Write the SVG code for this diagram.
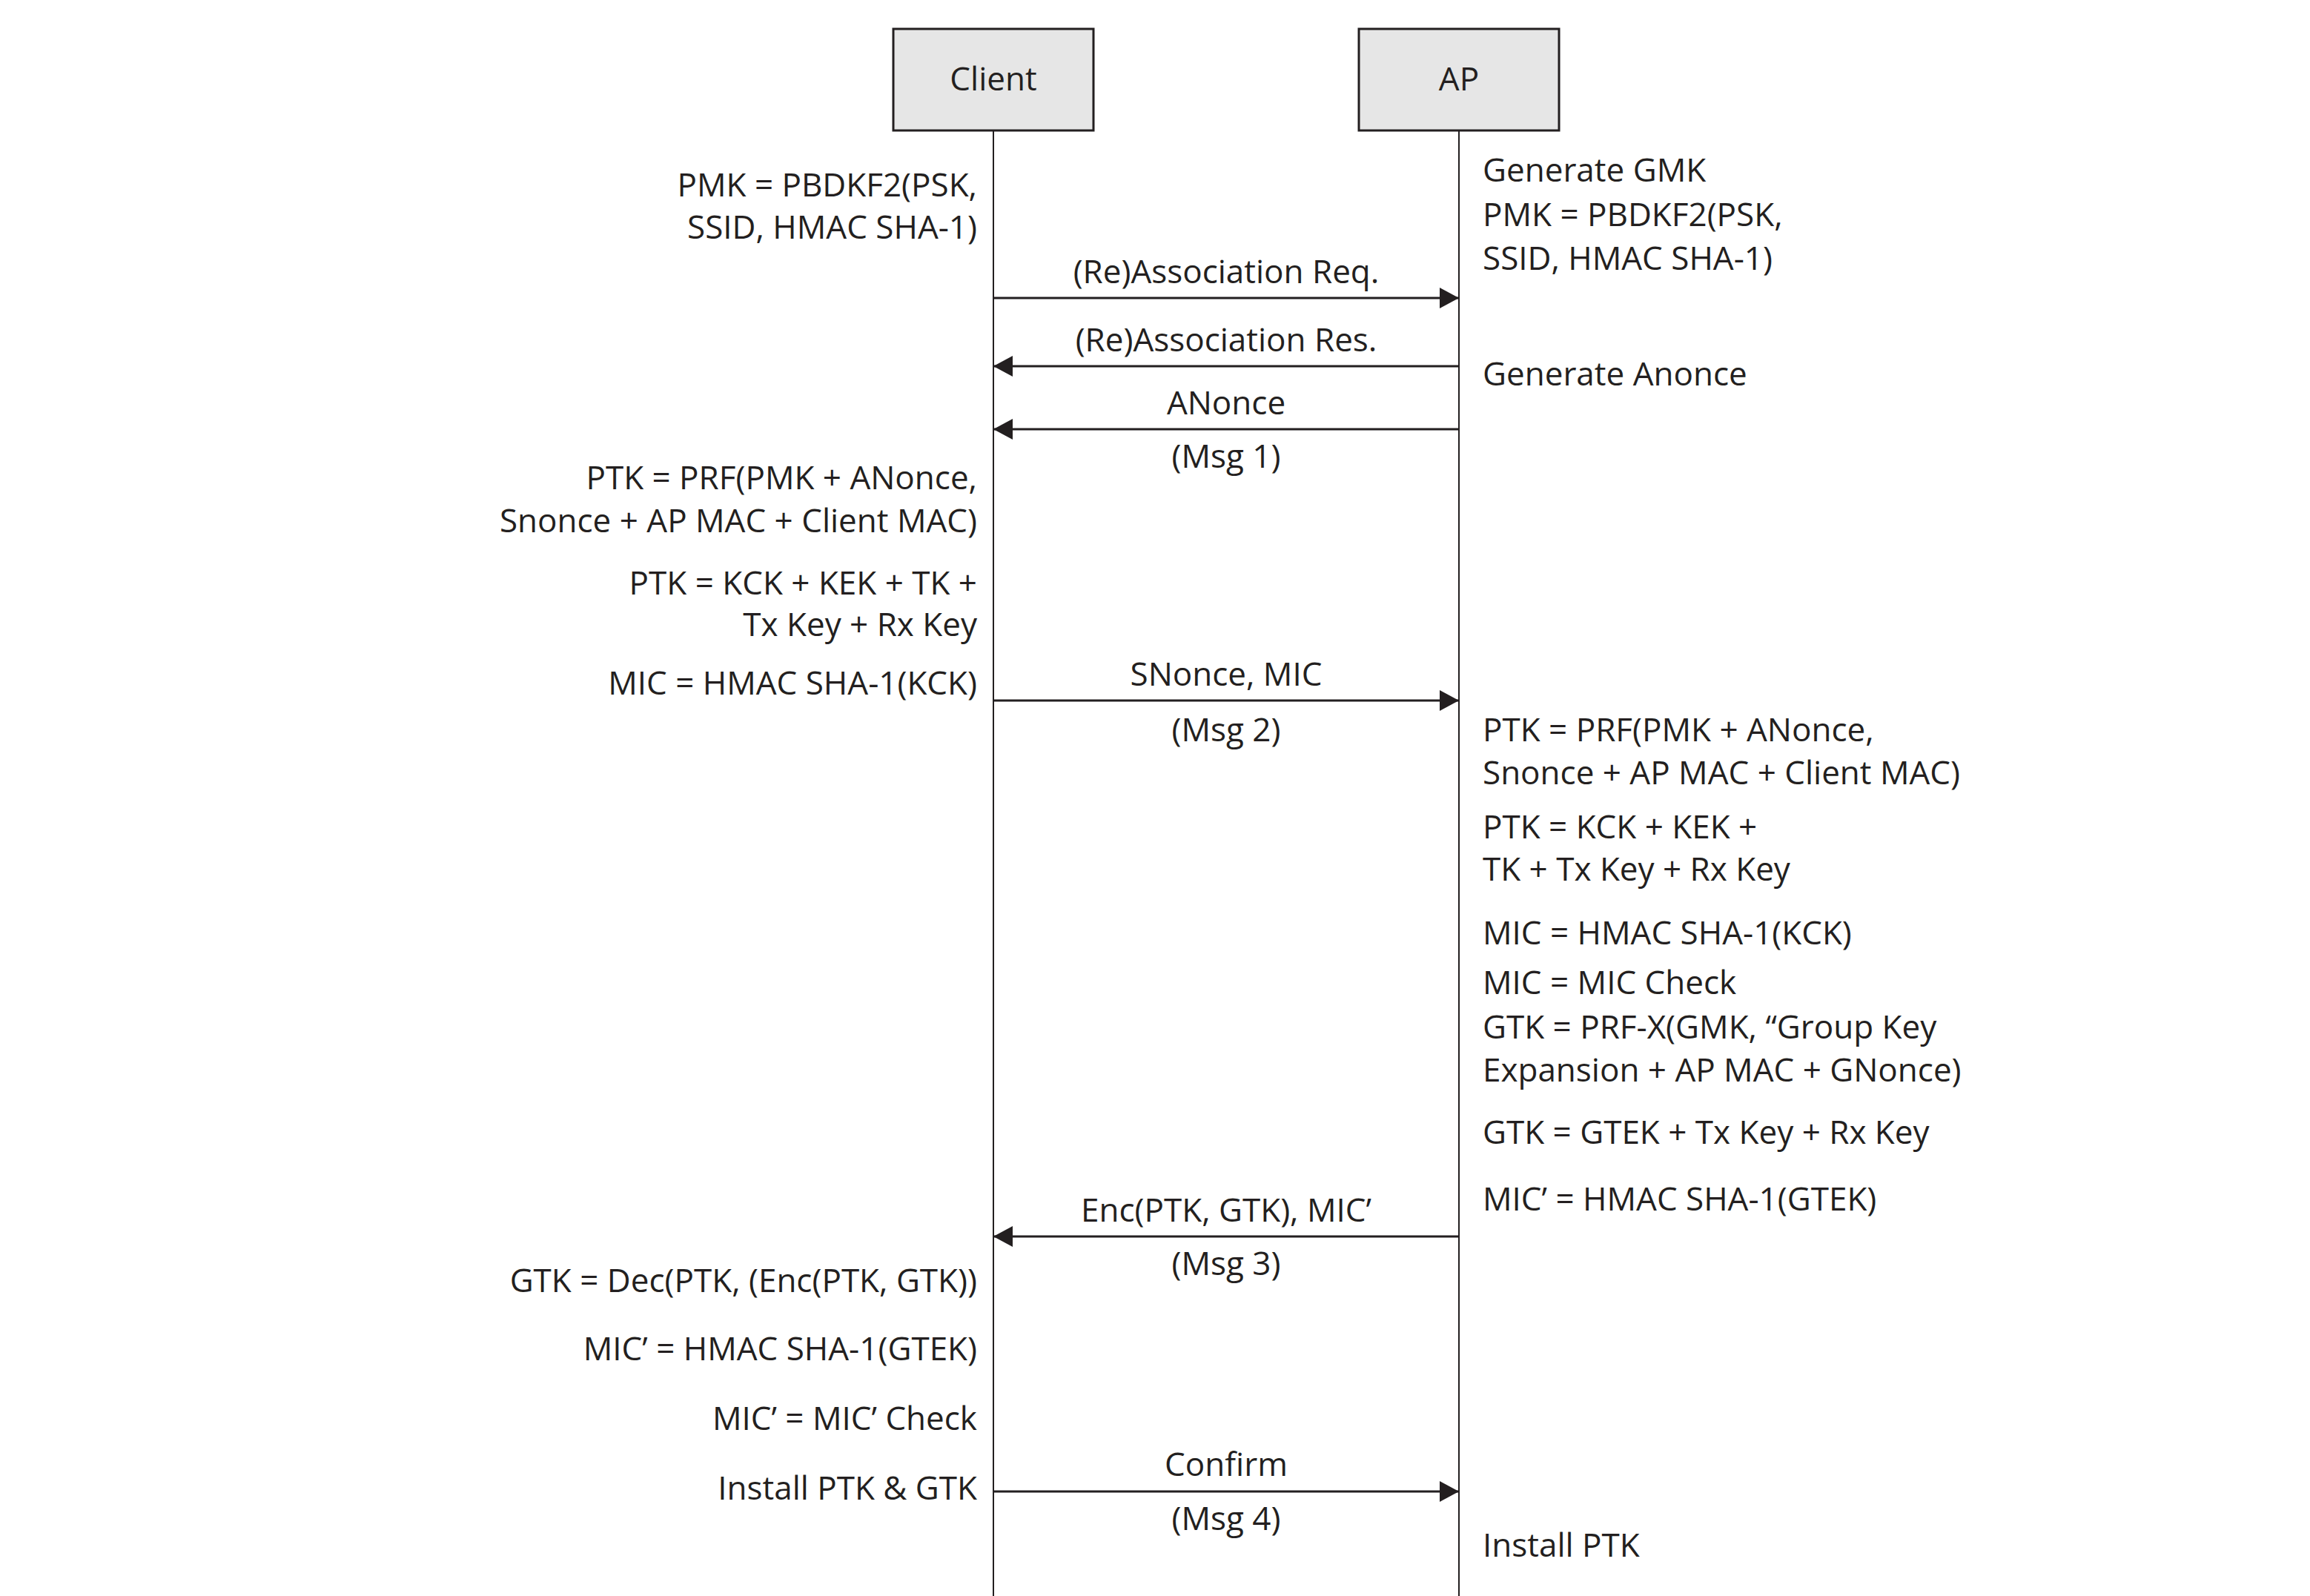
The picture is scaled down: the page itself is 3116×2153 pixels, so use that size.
<svg xmlns="http://www.w3.org/2000/svg" width="3116" height="2153" viewBox="0 0 3116 2153">
<style>
text{font-family:"Open Sans","Liberation Sans",sans-serif;font-size:44px;fill:#231f20}
.l{text-anchor:end}
.m{text-anchor:middle}
.box{fill:#e6e6e6;stroke:#231f20;stroke-width:3}
.life{stroke:#231f20;stroke-width:2;fill:none}
.msg{stroke:#231f20;stroke-width:3;fill:none;marker-end:url(#ah)}
</style>
<defs>
<marker id="ah" markerUnits="userSpaceOnUse" markerWidth="28" markerHeight="30" refX="26" refY="14" orient="auto">
<path d="M0,0 L26,14 L0,28 Z" fill="#231f20"/>
</marker>
</defs>
<rect width="3116" height="2153" fill="#fff"/>
<g id="client">
<line class="life" x1="1340" y1="176" x2="1340" y2="2153"/>
<rect class="box" x="1205" y="39" width="270" height="137"/>
<text class="m" x="1340" y="122">Client</text>
</g>
<g id="ap">
<line class="life" x1="1968" y1="176" x2="1968" y2="2153"/>
<rect class="box" x="1833" y="39" width="270" height="137"/>
<text class="m" x="1968" y="122">AP</text>
</g>
<g id="connectors">
<line class="msg" x1="1340" y1="402" x2="1968" y2="402"/>
<text class="m" x="1654" y="382">(Re)Association Req.</text>
<line class="msg" x1="1968" y1="494" x2="1340" y2="494"/>
<text class="m" x="1654" y="474">(Re)Association Res.</text>
<line class="msg" x1="1968" y1="579" x2="1340" y2="579"/>
<text class="m" x="1654" y="559">ANonce</text>
<text class="m" x="1654" y="631">(Msg 1)</text>
<line class="msg" x1="1340" y1="945" x2="1968" y2="945"/>
<text class="m" x="1654" y="925">SNonce, MIC</text>
<text class="m" x="1654" y="1000">(Msg 2)</text>
<line class="msg" x1="1968" y1="1668" x2="1340" y2="1668"/>
<text class="m" x="1654" y="1648">Enc(PTK, GTK), MIC’</text>
<text class="m" x="1654" y="1720">(Msg 3)</text>
<line class="msg" x1="1340" y1="2012" x2="1968" y2="2012"/>
<text class="m" x="1654" y="1991">Confirm</text>
<text class="m" x="1654" y="2064">(Msg 4)</text>
</g>
<g id="client-notes">
<text class="l" x="1318" y="265">PMK = PBDKF2(PSK,</text>
<text class="l" x="1318" y="322">SSID, HMAC SHA-1)</text>
<text class="l" x="1318" y="660">PTK = PRF(PMK + ANonce,</text>
<text class="l" x="1318" y="718">Snonce + AP MAC + Client MAC)</text>
<text class="l" x="1318" y="802">PTK = KCK + KEK + TK +</text>
<text class="l" x="1318" y="858">Tx Key + Rx Key</text>
<text class="l" x="1318" y="937">MIC = HMAC SHA-1(KCK)</text>
<text class="l" x="1318" y="1743">GTK = Dec(PTK, (Enc(PTK, GTK))</text>
<text class="l" x="1318" y="1835">MIC’ = HMAC SHA-1(GTEK)</text>
<text class="l" x="1318" y="1929">MIC’ = MIC’ Check</text>
<text class="l" x="1318" y="2023">Install PTK &amp; GTK</text>
</g>
<g id="ap-notes">
<text x="2000" y="245">Generate GMK</text>
<text x="2000" y="305">PMK = PBDKF2(PSK,</text>
<text x="2000" y="364">SSID, HMAC SHA-1)</text>
<text x="2000" y="520">Generate Anonce</text>
<text x="2000" y="1000">PTK = PRF(PMK + ANonce,</text>
<text x="2000" y="1058">Snonce + AP MAC + Client MAC)</text>
<text x="2000" y="1131">PTK = KCK + KEK +</text>
<text x="2000" y="1188">TK + Tx Key + Rx Key</text>
<text x="2000" y="1274">MIC = HMAC SHA-1(KCK)</text>
<text x="2000" y="1341">MIC = MIC Check</text>
<text x="2000" y="1401">GTK = PRF-X(GMK, “Group Key</text>
<text x="2000" y="1459">Expansion + AP MAC + GNonce)</text>
<text x="2000" y="1543">GTK = GTEK + Tx Key + Rx Key</text>
<text x="2000" y="1633">MIC’ = HMAC SHA-1(GTEK)</text>
<text x="2000" y="2100">Install PTK</text>
</g>
</svg>
